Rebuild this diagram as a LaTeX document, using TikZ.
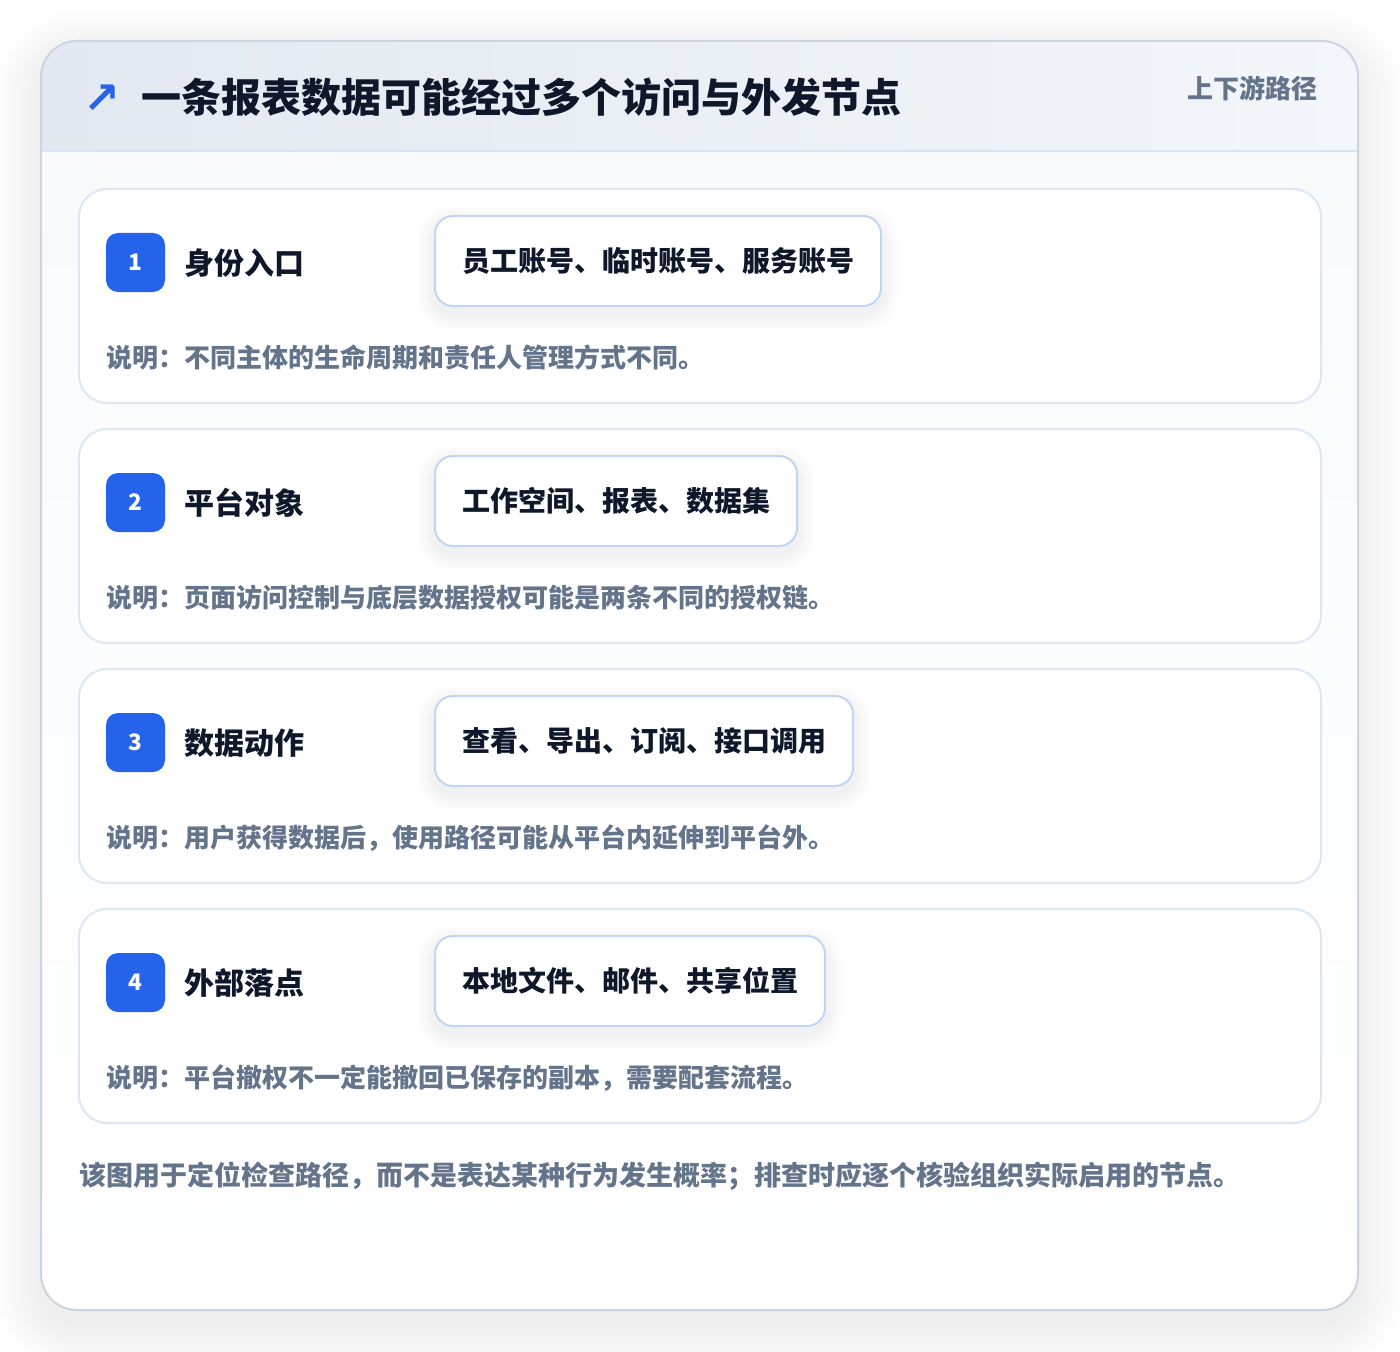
\documentclass[tikz,border=0pt]{standalone}
\usepackage{fontspec}
\setmainfont{Noto Sans CJK SC}
\newfontfamily\symfont{DejaVu Sans}
\definecolor{accent}{HTML}{2563EB}
\definecolor{ink}{HTML}{0F172A}
\definecolor{muted}{HTML}{64748B}
\definecolor{cardline}{HTML}{DBE7F7}
\definecolor{pillline}{HTML}{BFD6F4}
\definecolor{outline}{HTML}{CBD5E1}
\definecolor{hdrL}{HTML}{E3E9F1}
\definecolor{hdrR}{HTML}{F3F6FA}
\definecolor{hdrline}{HTML}{D6E4F5}
\definecolor{bodyT}{HTML}{F8FAFC}
\definecolor{shadowc}{HTML}{1E293B}
\newcommand{\fs}[1]{\fontsize{#1pt}{#1pt}\selectfont}
\tikzset{
  stepcard/.style={draw=cardline, line width=1.5pt, fill=white, rounded corners=21pt},
  badge/.style={fill=accent, rounded corners=9pt, minimum size=44.25pt, inner sep=0pt,
    text=white, font=\bfseries\fs{17}},
  steptitle/.style={anchor=base west, inner sep=0pt, text=ink, font=\bfseries\fs{22.5}},
  pill/.style={draw=pillline, line width=1.5pt, fill=white, rounded corners=13.5pt,
    minimum height=67.5pt, inner sep=0pt, text=ink, font=\bfseries\fs{21}},
  desc/.style={anchor=base west, inner sep=0pt, text=muted, font=\bfseries\fs{19.5}},
  shadowlayer/.style={fill=shadowc, opacity=#1},
}
\begin{document}
\begin{tikzpicture}[x=0.75pt,y=-0.75pt]
\useasboundingbox (0,0) rectangle (1400,1352);
\fill[white] (0,0) rectangle (1400,1352);
% soft shadow of the outer card
\foreach \k in {1,...,16}{
  \pgfmathsetmacro{\rr}{27+2.25*\k}
  \fill[shadowlayer=0.0055, rounded corners=\rr pt] (41-3*\k,58-3*\k) rectangle (1358+3*\k,1324+3*\k);
}
% outer card
\fill[white, rounded corners=27pt] (41,41) rectangle (1358,1310);
\begin{scope}
  \clip[rounded corners=27pt] (41,41) rectangle (1358,1310);
  \shade[left color=hdrL, right color=hdrR] (41,41) rectangle (1358,151);
  \shade[top color=bodyT, bottom color=white] (41,151) rectangle (1358,1310);
\end{scope}
\coordinate (hl) at (41,151);
\coordinate (hr) at (1358,151);
\draw[hdrline, line width=1.5pt] (hl) -- (hr);
\draw[outline, line width=1.5pt, rounded corners=27pt] (41,41) rectangle (1358,1310);
% header
\node[text=accent, inner sep=0pt, font=\symfont\bfseries\fs{33}] (arrow) at (102,99) {↗};
\node[anchor=base west, inner sep=0pt, text=ink, font=\bfseries\fs{30}] (title) at (141,113) {一条报表数据可能经过多个访问与外发节点};
\node[anchor=base east, inner sep=0pt, text=muted, font=\bfseries\fs{19.5}] (tag) at (1318,99) {上下游路径};
% steps
\foreach \i/\yy/\px/\pw/\name/\items/\note in {
  1/189/658/446/身份入口/{员工账号、临时账号、服务账号}/{说明：不同主体的生命周期和责任人管理方式不同。},
  2/429/616/362/平台对象/{工作空间、报表、数据集}/{说明：页面访问控制与底层数据授权可能是两条不同的授权链。},
  3/669/644/418/数据动作/{查看、导出、订阅、接口调用}/{说明：用户获得数据后，使用路径可能从平台内延伸到平台外。},
  4/909/630/390/外部落点/{本地文件、邮件、共享位置}/{说明：平台撤权不一定能撤回已保存的副本，需要配套流程。}}{
  \draw[stepcard] (79,\yy) rectangle (1321,\yy+214);
  \foreach \k in {1,...,7}{
    \pgfmathsetmacro{\rr}{13.5+1.9*\k}
    \fill[shadowlayer=0.008, rounded corners=\rr pt]
      (\px-\pw/2-2.5*\k,\yy+34-2.5*\k) rectangle (\px+\pw/2+2.5*\k,\yy+124+2.5*\k);
  }
  \node[badge] (badge\i) at (135.5,\yy+73.5) {\i};
  \node[steptitle] (title\i) at (184,\yy+85) {\name};
  \node[pill, minimum width=0.75*\pw pt] (pill\i) at (\px,\yy+72) {\items};
  \node[desc] (desc\i) at (106,\yy+178) {\note};
}
\node[anchor=base west, inner sep=0pt, text=muted, font=\bfseries\fs{20.25}] (foot) at (79,1185)
  {该图用于定位检查路径，而不是表达某种行为发生概率；排查时应逐个核验组织实际启用的节点。};
\end{tikzpicture}
\end{document}
